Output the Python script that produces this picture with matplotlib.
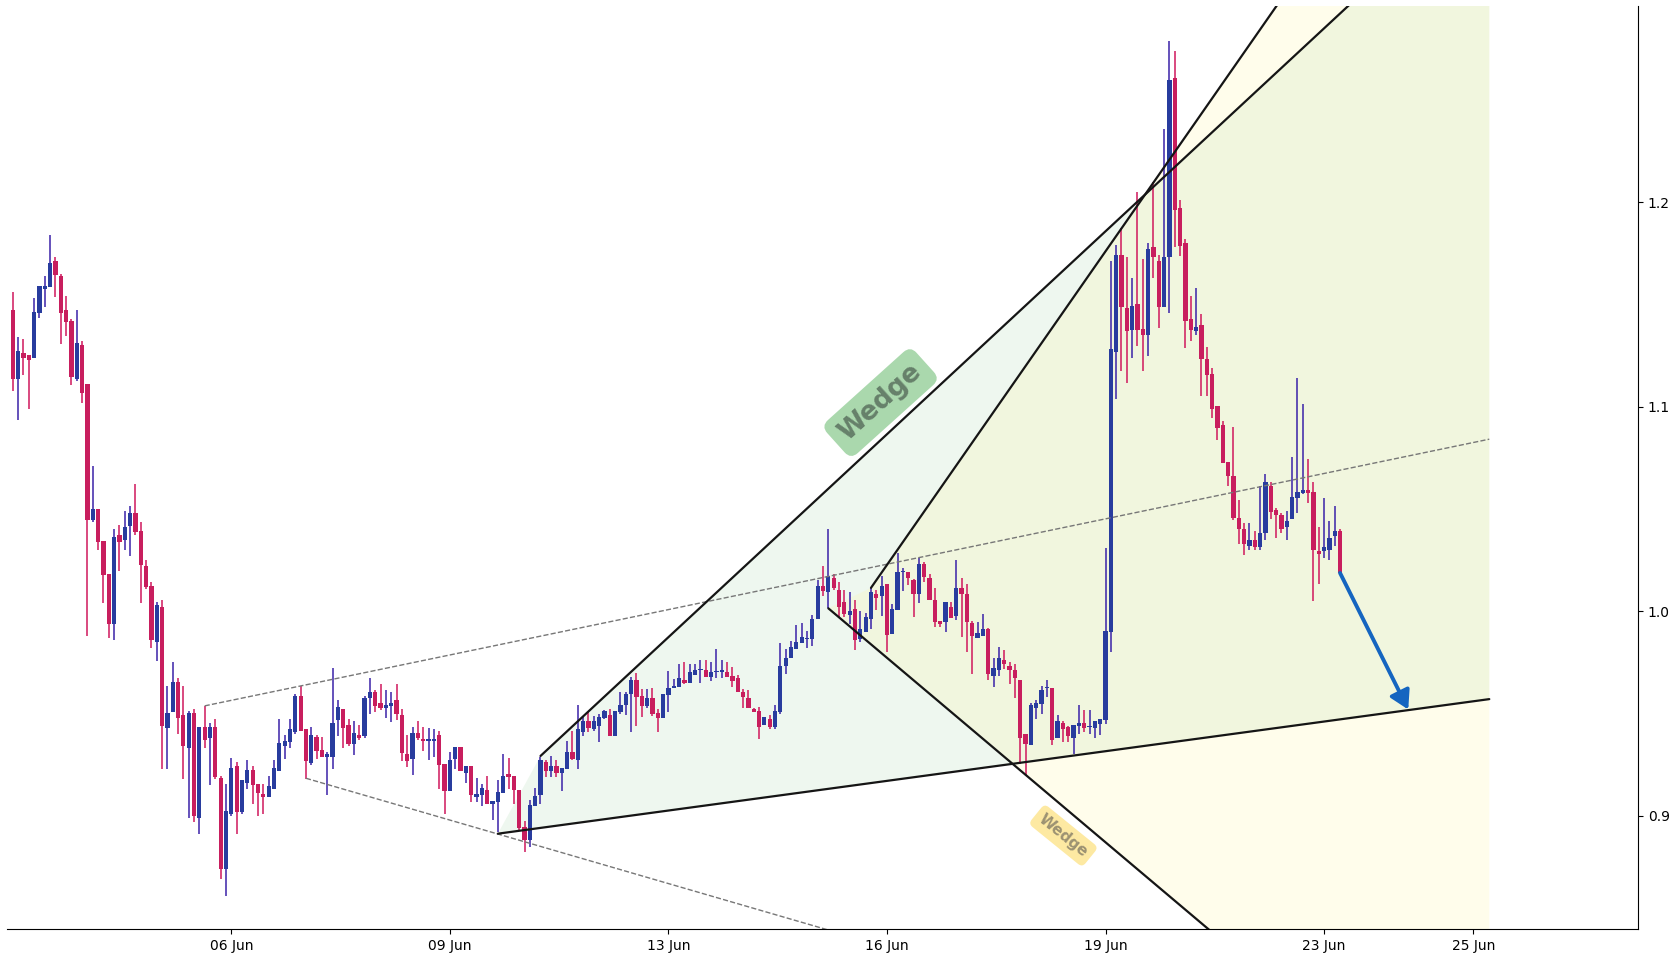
import matplotlib
matplotlib.use('Agg')
import matplotlib.pyplot as plt
import numpy as np

opens = [1.1473,1.1136,1.1263,1.1253,1.1240,1.1460,1.1577,1.1587,1.1713,1.1639,
1.1473,1.1419,1.1136,1.1302,1.1111,1.0446,1.0500,1.0343,1.0182,0.9938,
1.0373,1.0348,1.0417,1.0480,1.0392,1.0221,1.0125,0.9851,1.0021,0.9430,
0.9509,0.9654,0.9493,0.9333,0.9502,0.8990,0.9434,0.9382,0.9434,0.9185,
0.8741,0.9010,0.9243,0.9020,0.9160,0.9224,0.9155,0.9106,0.9093,0.9132,
0.9220,0.9342,0.9362,0.9411,0.9587,0.9424,0.9259,0.9385,0.9322,0.9289,
0.9289,0.9470,0.9522,0.9444,0.9352,0.9395,0.9391,0.9574,0.9605,0.9551,
0.9528,0.9538,0.9565,0.9493,0.9302,0.9279,0.9405,0.9375,0.9364,0.9364,
0.9393,0.9253,0.9122,0.9279,0.9336,0.9210,0.9243,0.9093,0.9103,0.9126,
0.9059,0.9069,0.9113,0.9204,0.9194,0.9124,0.8943,0.8883,0.9049,0.9103,
0.9263,0.9220,0.9243,0.9210,0.9230,0.9312,0.9273,0.9411,0.9463,0.9424,
0.9440,0.9479,0.9493,0.9391,0.9509,0.9540,0.9595,0.9664,0.9585,0.9538,
0.9576,0.9502,0.9479,0.9592,0.9623,0.9631,0.9664,0.9651,0.9690,0.9711,
0.9713,0.9679,0.9701,0.9703,0.9701,0.9682,0.9674,0.9604,0.9576,0.9522,
0.9512,0.9442,0.9473,0.9432,0.9509,0.9731,0.9770,0.9815,0.9843,0.9864,
0.9864,0.9962,1.0123,1.0092,1.0161,1.0102,1.0044,0.9980,1.0011,0.9866,
0.9900,0.9960,1.0083,1.0073,1.0132,0.9890,1.0008,1.0190,1.0193,1.0151,
1.0083,1.0230,1.0164,1.0053,0.9952,0.9949,1.0019,0.9978,1.0115,1.0084,
0.9942,0.9871,0.9880,0.9913,0.9682,0.9711,0.9763,0.9734,0.9714,0.9665,
0.9398,0.9346,0.9528,0.9548,0.9622,0.9625,0.9382,0.9454,0.9434,0.9382,
0.9440,0.9454,0.9434,0.9430,0.9450,0.9470,0.9900,1.1268,1.1744,1.1483,
1.1375,1.1502,1.1380,1.1348,1.1781,1.1713,1.1489,1.1730,1.2608,1.1972,
1.1798,1.1429,1.1368,1.1400,1.1234,1.1160,1.1004,1.0911,1.0730,1.0661,
1.0458,1.0400,1.0321,1.0349,1.0313,1.0383,1.0610,1.0496,1.0469,1.0412,
1.0449,1.0554,1.0578,1.0593,1.0583,1.0295,1.0295,1.0300,1.0369,1.0392]

highs = [1.1561,1.1341,1.1331,1.1253,1.1532,1.1590,1.1639,1.1840,1.1732,1.1649,
1.1542,1.1429,1.1473,1.1321,1.1111,1.0710,1.0500,1.0343,1.0182,1.0402,
1.0422,1.0490,1.0515,1.0622,1.0438,1.0251,1.0143,1.0045,1.0055,0.9634,
0.9752,0.9674,0.9636,0.9512,0.9522,0.9434,0.9537,0.9454,0.9473,0.9194,
0.9155,0.9282,0.9263,0.9175,0.9273,0.9243,0.9155,0.9155,0.9194,0.9273,
0.9473,0.9395,0.9473,0.9597,0.9636,0.9424,0.9434,0.9395,0.9385,0.9312,
0.9724,0.9565,0.9522,0.9473,0.9463,0.9444,0.9587,0.9674,0.9616,0.9646,
0.9616,0.9607,0.9646,0.9522,0.9395,0.9434,0.9463,0.9434,0.9428,0.9426,
0.9414,0.9253,0.9312,0.9336,0.9336,0.9243,0.9243,0.9185,0.9157,0.9194,
0.9071,0.9175,0.9300,0.9282,0.9194,0.9124,0.8974,0.9077,0.9136,0.9289,
0.9273,0.9292,0.9273,0.9233,0.9366,0.9414,0.9542,0.9489,0.9509,0.9489,
0.9496,0.9517,0.9522,0.9512,0.9607,0.9605,0.9677,0.9699,0.9618,0.9618,
0.9623,0.9520,0.9595,0.9709,0.9670,0.9741,0.9750,0.9741,0.9741,0.9762,
0.9763,0.9750,0.9815,0.9760,0.9750,0.9729,0.9688,0.9620,0.9615,0.9528,
0.9532,0.9483,0.9493,0.9542,0.9845,0.9815,0.9855,0.9933,0.9944,0.9903,
0.9982,1.0154,1.0223,1.0402,1.0181,1.0141,1.0102,1.0094,1.0055,0.9999,
0.9991,1.0114,1.0102,1.0171,1.0132,1.0034,1.0283,1.0213,1.0193,1.0158,
1.0262,1.0239,1.0181,1.0115,0.9952,1.0044,1.0044,1.0251,1.0164,1.0135,
0.9952,0.9949,0.9985,0.9919,0.9770,0.9825,0.9809,0.9753,0.9743,0.9665,
0.9398,0.9551,0.9565,0.9633,0.9665,0.9625,0.9493,0.9463,0.9440,0.9444,
0.9542,0.9516,0.9518,0.9463,0.9473,1.0308,1.1712,1.1791,1.1874,1.1732,
1.1630,1.2050,1.1722,1.1801,1.2097,1.1742,1.2358,1.2789,1.2740,1.2011,
1.1818,1.1542,1.1581,1.1454,1.1292,1.1190,1.1004,1.0930,1.0730,1.0901,
1.0545,1.0432,1.0432,1.0392,1.0613,1.0671,1.0632,1.0505,1.0480,1.0490,
1.0754,1.1141,1.1013,1.0744,1.0632,1.0412,1.0554,1.0441,1.0515,1.0402]

lows = [1.1078,1.0937,1.1155,1.0989,1.1240,1.1434,1.1489,1.1587,1.1538,1.1308,
1.1347,1.1106,1.1126,1.1020,0.9879,1.0436,1.0299,1.0042,0.9871,0.9859,
1.0197,1.0299,1.0270,1.0373,1.0042,1.0107,0.9822,0.9758,0.9229,0.9229,
0.9509,0.9401,0.9181,0.8990,0.8971,0.8912,0.9333,0.9150,0.9181,0.8692,
0.8609,0.8998,0.8912,0.9010,0.9132,0.9059,0.8998,0.9010,0.9093,0.9132,
0.9220,0.9277,0.9333,0.9401,0.9414,0.9181,0.9250,0.9277,0.9289,0.9103,
0.9230,0.9391,0.9333,0.9342,0.9298,0.9372,0.9382,0.9499,0.9509,0.9518,
0.9479,0.9460,0.9470,0.9269,0.9240,0.9201,0.9372,0.9318,0.9271,0.9287,
0.9132,0.9010,0.9122,0.9230,0.9220,0.9162,0.9069,0.9069,0.9049,0.9059,
0.8979,0.8919,0.9113,0.9132,0.9059,0.8932,0.8821,0.8849,0.9049,0.9059,
0.9191,0.9191,0.9191,0.9122,0.9230,0.9273,0.9230,0.9391,0.9411,0.9414,
0.9362,0.9474,0.9391,0.9391,0.9499,0.9493,0.9411,0.9440,0.9484,0.9527,
0.9489,0.9410,0.9479,0.9509,0.9623,0.9631,0.9644,0.9651,0.9690,0.9651,
0.9679,0.9660,0.9672,0.9672,0.9679,0.9630,0.9604,0.9528,0.9528,0.9509,
0.9374,0.9442,0.9424,0.9424,0.9499,0.9692,0.9770,0.9815,0.9843,0.9822,
0.9831,0.9962,1.0073,1.0014,1.0102,0.9973,0.9973,0.9938,0.9812,0.9851,
0.9900,0.9912,1.0008,0.9978,0.9802,0.9890,1.0008,1.0100,1.0128,0.9970,
1.0042,1.0144,1.0053,0.9924,0.9921,0.9900,0.9965,0.9959,0.9873,0.9802,
0.9692,0.9871,0.9880,0.9665,0.9631,0.9682,0.9718,0.9643,0.9574,0.9251,
0.9199,0.9346,0.9473,0.9499,0.9581,0.9346,0.9382,0.9362,0.9362,0.9303,
0.9401,0.9408,0.9401,0.9379,0.9395,0.9450,0.9802,1.1038,1.1176,1.1118,
1.1239,1.1299,1.1176,1.1250,1.1627,1.1386,1.1489,1.1458,1.1779,1.1739,
1.1288,1.1319,1.1348,1.1050,1.1050,1.0946,1.0837,1.0726,1.0610,1.0446,
1.0329,1.0275,1.0300,1.0300,1.0300,1.0349,1.0451,1.0360,1.0383,1.0349,
1.0449,1.0478,1.0573,1.0530,1.0052,1.0133,1.0260,1.0248,1.0321,1.0187]

closes = [1.1136,1.1273,1.1240,1.1230,1.1463,1.1590,1.1590,1.1703,1.1644,1.1460,
1.1416,1.1147,1.1312,1.1069,1.0446,1.0500,1.0340,1.0177,0.9938,1.0365,
1.0340,1.0413,1.0480,1.0389,1.0226,1.0120,0.9859,1.0030,0.9440,0.9502,
0.9654,0.9479,0.9342,0.9502,0.8998,0.9434,0.9372,0.9434,0.9189,0.8741,
0.9023,0.9233,0.9020,0.9175,0.9224,0.9150,0.9113,0.9093,0.9145,0.9233,
0.9356,0.9367,0.9424,0.9587,0.9414,0.9269,0.9395,0.9318,0.9289,0.9302,
0.9454,0.9532,0.9430,0.9352,0.9405,0.9382,0.9576,0.9605,0.9538,0.9528,
0.9542,0.9551,0.9499,0.9308,0.9269,0.9405,0.9382,0.9364,0.9375,0.9375,
0.9250,0.9122,0.9273,0.9336,0.9220,0.9243,0.9103,0.9106,0.9136,0.9059,
0.9071,0.9115,0.9194,0.9191,0.9124,0.8940,0.8883,0.9052,0.9097,0.9273,
0.9220,0.9243,0.9210,0.9233,0.9312,0.9279,0.9424,0.9463,0.9430,0.9463,
0.9483,0.9512,0.9391,0.9512,0.9542,0.9595,0.9664,0.9582,0.9538,0.9576,
0.9499,0.9479,0.9595,0.9623,0.9633,0.9674,0.9651,0.9703,0.9713,0.9716,
0.9679,0.9701,0.9708,0.9708,0.9679,0.9660,0.9604,0.9581,0.9528,0.9509,
0.9432,0.9483,0.9432,0.9512,0.9731,0.9770,0.9825,0.9851,0.9874,0.9866,
0.9962,1.0125,1.0100,1.0171,1.0112,1.0019,0.9985,0.9999,0.9861,0.9912,
0.9972,1.0094,1.0063,1.0125,0.9882,1.0011,1.0190,1.0193,1.0161,1.0083,
1.0230,1.0167,1.0053,0.9949,0.9939,1.0044,0.9968,1.0112,1.0083,0.9949,
0.9880,0.9894,0.9913,0.9692,0.9721,0.9770,0.9741,0.9711,0.9672,0.9381,
0.9352,0.9542,0.9551,0.9616,0.9625,0.9372,0.9463,0.9423,0.9391,0.9444,
0.9454,0.9430,0.9436,0.9463,0.9473,0.9903,1.1282,1.1744,1.1489,1.1368,
1.1493,1.1375,1.1348,1.1771,1.1730,1.1489,1.1732,1.2598,1.1960,1.1787,
1.1417,1.1375,1.1390,1.1231,1.1156,1.0990,1.0897,1.0726,1.0659,1.0458,
1.0400,1.0329,1.0349,1.0313,1.0383,1.0632,1.0487,1.0469,1.0400,1.0441,
1.0559,1.0583,1.0593,1.0579,1.0300,1.0280,1.0314,1.0360,1.0392,1.0187]

tick_pos = [41, 82, 123, 164, 205, 246, 274]
tick_labels = ['06 Jun', '09 Jun', '13 Jun', '16 Jun', '19 Jun', '23 Jun', '25 Jun']
y_ticks = [0.9, 1.0, 1.1, 1.2]
y_tick_labels = ['0.9', '1.0', '1.1', '1.2']

# pattern lines: (x0, x1), (y0, y1)
channel_upper_x, channel_upper_y = [36, 277], [0.9537, 1.0841]
channel_lower_x, channel_lower_y = [55, 277], [0.9183, 0.7502]
wedge1_upper_x, wedge1_upper_y = [99, 277], [0.9292, 1.3600]
wedge1_lower_x, wedge1_lower_y = [91, 277], [0.8912, 0.9570]
wedge2_upper_x, wedge2_upper_y = [161, 277], [1.0114, 1.4452]
wedge2_lower_x, wedge2_lower_y = [153, 277], [1.0014, 0.7286]
arrow_from = (249, 1.0187)
arrow_to = (261.8, 0.9519)
label1_pos = (162.8, 1.1020)
label2_pos = (197.1, 0.8903)

UP = '#283c9e'
DOWN = '#c81e5e'
UP_WICK = '#3a22a8'
DOWN_WICK = '#d0185c'

fig = plt.figure(figsize=(16.8, 9.6), dpi=100)
ax = fig.add_axes([0.00435, 0.0323, 0.97065, 0.961])

# wedge fills
ax.fill([wedge1_lower_x[0], wedge1_upper_x[0], wedge1_upper_x[1], wedge1_lower_x[1]],
        [wedge1_lower_y[0], wedge1_upper_y[0], wedge1_upper_y[1], wedge1_lower_y[1]],
        facecolor='#a5d6a7', alpha=0.18, edgecolor='none', zorder=1)
ax.fill([wedge2_lower_x[0], wedge2_upper_x[0], wedge2_upper_x[1], wedge2_lower_x[1]],
        [wedge2_lower_y[0], wedge2_upper_y[0], wedge2_upper_y[1], wedge2_lower_y[1]],
        facecolor='#fff59d', alpha=0.2, edgecolor='none', zorder=1)

o = np.array(opens); h = np.array(highs); l = np.array(lows); c = np.array(closes)
x = np.arange(len(o))
up = c >= o
wick_cols = np.where(up, UP_WICK, DOWN_WICK)
body_cols = np.where(up, UP, DOWN)
ax.vlines(x, l, h, colors=wick_cols, linewidth=1.1, zorder=3)
ax.bar(x, np.maximum(np.abs(c - o), 0.0007), bottom=np.minimum(o, c), width=0.8,
       color=body_cols, linewidth=0, zorder=4)

# channel dashed lines
ax.plot(channel_upper_x, channel_upper_y, color='#777777', lw=1.0, ls='--', zorder=5)
ax.plot(channel_lower_x, channel_lower_y, color='#777777', lw=1.0, ls='--', zorder=5)
# wedge lines
for xs, ys in [(wedge1_upper_x, wedge1_upper_y), (wedge1_lower_x, wedge1_lower_y),
               (wedge2_upper_x, wedge2_upper_y), (wedge2_lower_x, wedge2_lower_y)]:
    ax.plot(xs, ys, color='#151515', lw=1.6, zorder=6, solid_capstyle='round')

ax.text(label1_pos[0], label1_pos[1], 'Wedge', rotation=42, rotation_mode='anchor',
        ha='center', va='center', fontsize=19, fontweight='bold', color='#66806a',
        bbox=dict(boxstyle='round,pad=0.35', facecolor='#aad8ad', edgecolor='none'), zorder=7)
ax.text(label2_pos[0], label2_pos[1], 'Wedge', rotation=-39, rotation_mode='anchor',
        ha='center', va='center', fontsize=11, fontweight='bold', color='#9c9272',
        bbox=dict(boxstyle='round,pad=0.35', facecolor='#fde9a2', edgecolor='none'), zorder=7)

ax.annotate('', xy=arrow_to, xytext=arrow_from,
            arrowprops=dict(arrowstyle='-|>,head_length=0.55,head_width=0.32',
                            color='#1565c0', lw=2.8, mutation_scale=20,
                            shrinkA=0, shrinkB=0), zorder=8)

ax.set_xlim(-1.03, 304.9)
ax.set_ylim(0.8446, 1.2957)
ax.set_xticks(tick_pos)
ax.set_xticklabels(tick_labels)
ax.yaxis.tick_right()
ax.set_yticks(y_ticks)
ax.set_yticklabels(y_tick_labels)
ax.tick_params(labelsize=10, length=3.5, width=0.8)
ax.spines['left'].set_visible(False)
ax.spines['top'].set_visible(False)

fig.savefig('out.png', dpi=100)
